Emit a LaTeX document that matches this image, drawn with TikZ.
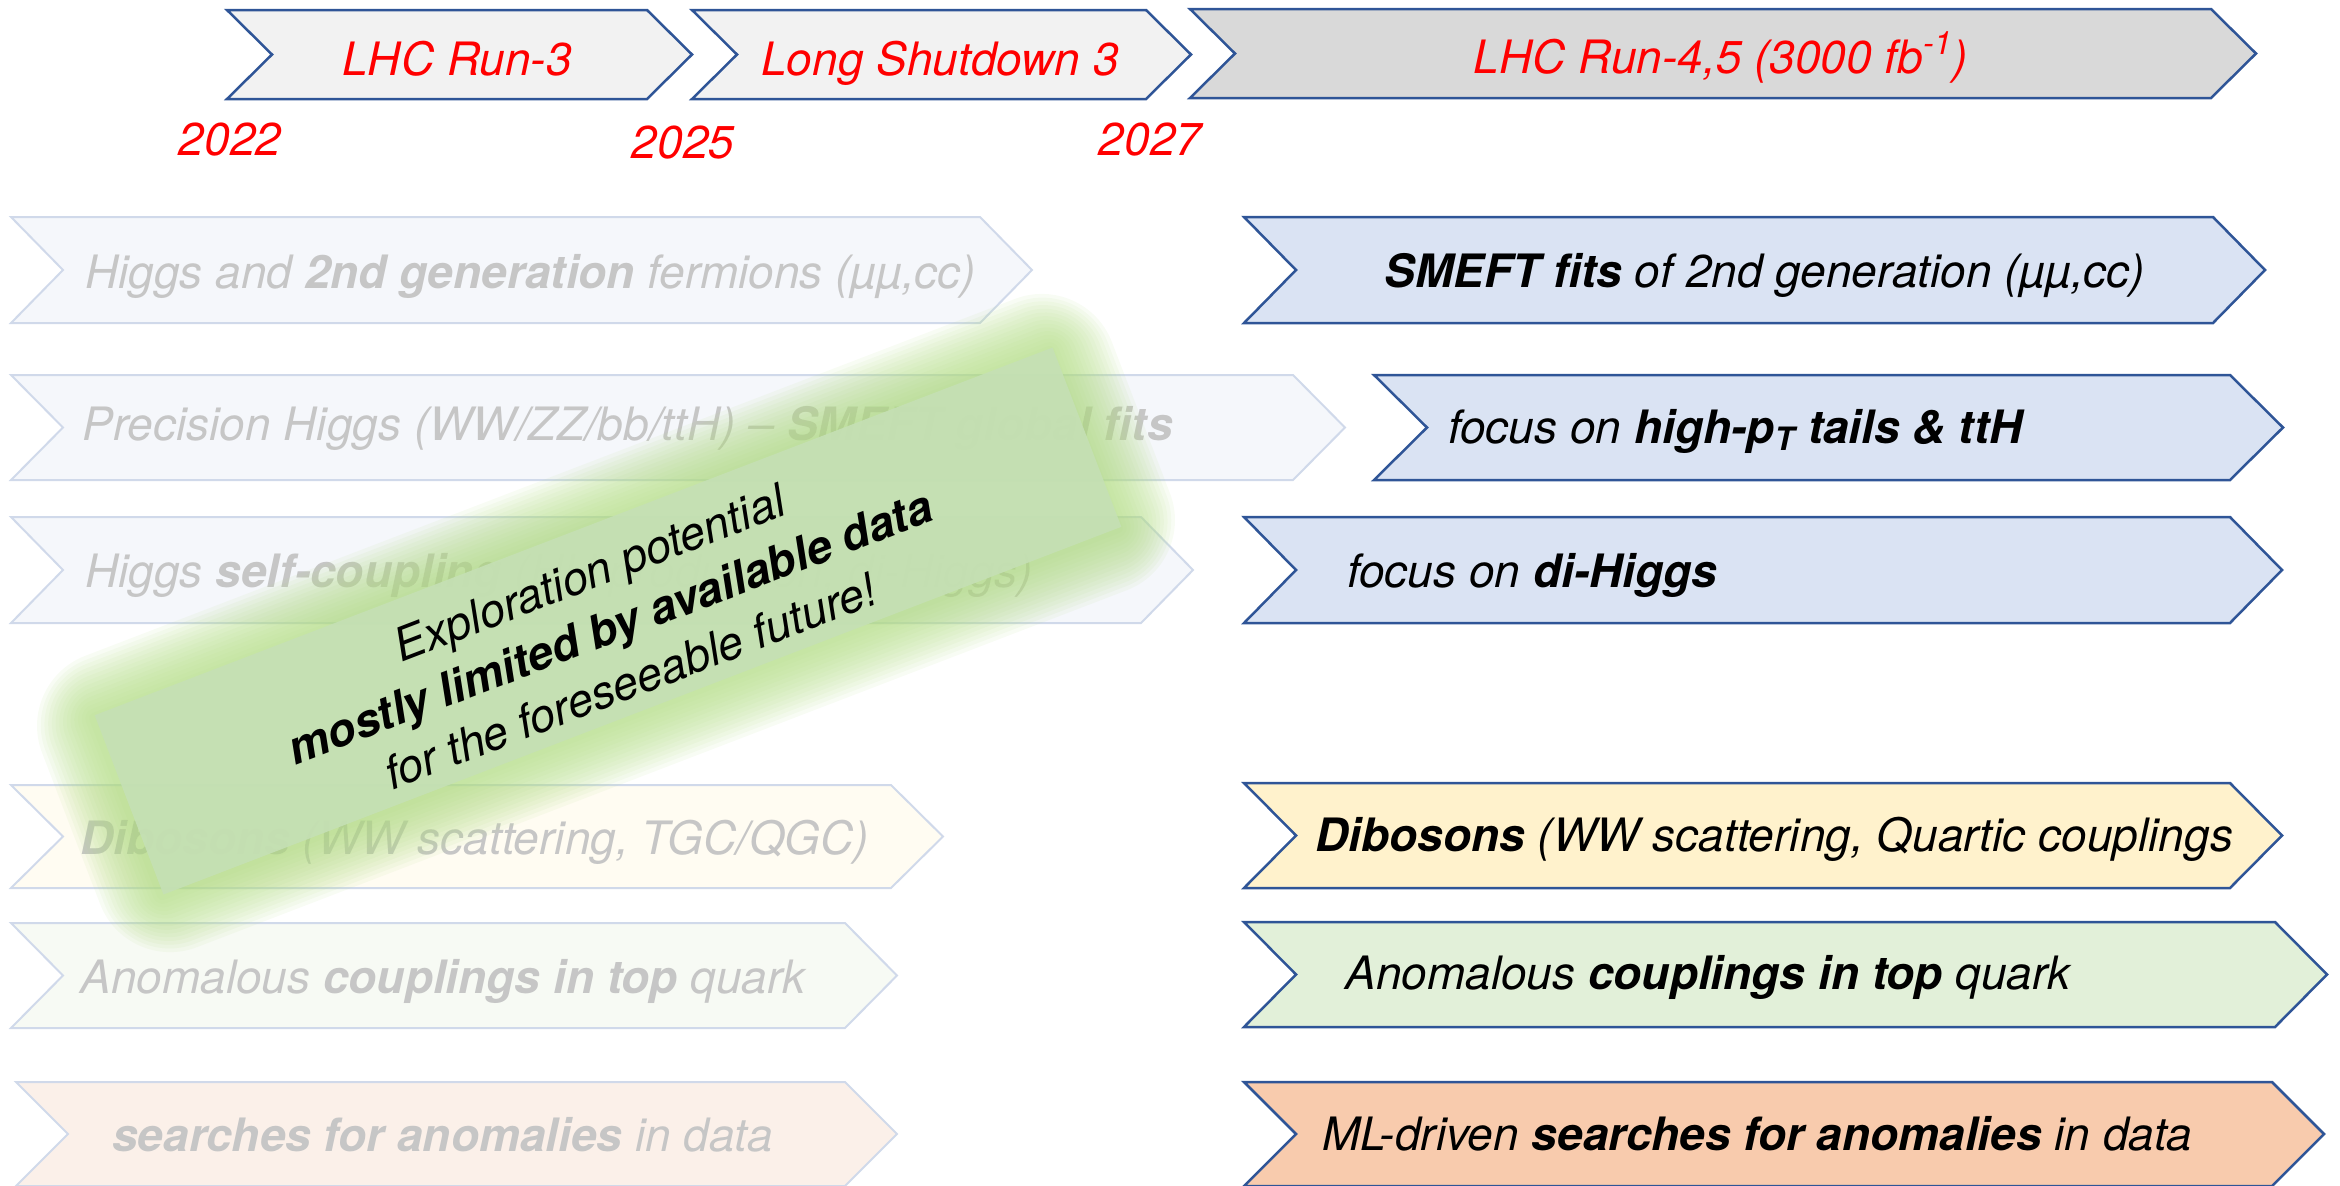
\documentclass[tikz,border=0pt]{standalone}
\usepackage{fontspec}
\setmainfont{TeX Gyre Heros}
\definecolor{bord}{HTML}{2F5597}
\definecolor{topfill}{HTML}{F2F2F2}
\definecolor{topfilldark}{HTML}{D9D9D9}
\definecolor{bluefill}{HTML}{DAE3F3}
\definecolor{yellowfill}{HTML}{FFF2CC}
\definecolor{greenfill}{HTML}{E2F0D9}
\definecolor{orangefill}{HTML}{F8CBAD}
\definecolor{fadebord}{HTML}{D0D9EA}
\definecolor{fadeblue}{HTML}{F5F7FB}
\definecolor{fadeyellow}{HTML}{FFFCF2}
\definecolor{fadegreen}{HTML}{F7FAF4}
\definecolor{fadeorange}{HTML}{FBF0E9}
\definecolor{fadetext}{HTML}{C6C6C6}
\definecolor{boxgreen}{HTML}{C5E0B4}
\definecolor{glowgreen}{HTML}{B2DC84}
\newcommand\mychev[6]{\draw[#1] (#2,#4) -- (#3,#4) -- ({#3+#6},{(#4+#5)/2}) -- (#3,#5) -- (#2,#5) -- ({#2+#6},{(#4+#5)/2}) -- cycle;}
\tikzset{
  strongchev/.style={draw=bord, line width=1.25pt, line join=miter},
  fadechev/.style={draw=fadebord, line width=1pt, line join=miter},
  lbl/.style={inner sep=0pt, font=\fontsize{23pt}{28pt}\selectfont\itshape},
  redlbl/.style={lbl, text=red, anchor=base},
  blacklbl/.style={lbl, text=black, anchor=base west},
  fadelbl/.style={lbl, text=fadetext, anchor=base west},
  glowlayer/.style={rotate=21, fill=glowgreen, fill opacity=0.085, draw=none, inner sep=0pt},
}
\begin{document}
\begin{tikzpicture}[x=0.5pt, y=-0.5pt]
\useasboundingbox (0,0) rectangle (2340,1185);
% timeline
\mychev{strongchev, fill=topfill}{227}{647}{10}{99}{45}
\mychev{strongchev, fill=topfill}{692}{1146}{10}{99}{45}
\mychev{strongchev, fill=topfilldark}{1190}{2211}{9}{98}{45}
\node[redlbl] (run3) at (457,75) {LHC Run-3};
\node[redlbl] (ls3) at (940,75) {Long Shutdown 3};
\node[redlbl] (run45) at (1721,73) {LHC Run-4,5 (3000 fb\textsuperscript{-1})};
\node[redlbl] (y2022) at (230,155) {2022};
\node[redlbl] (y2025) at (683,158) {2025};
\node[redlbl] (y2027) at (1150,155) {2027};
% faded left column
\mychev{fadechev, fill=fadeblue}{11}{980}{217}{323}{52}
\mychev{fadechev, fill=fadeblue}{11}{1293}{375}{480}{52}
\mychev{fadechev, fill=fadeblue}{11}{1141}{517}{623}{52}
\mychev{fadechev, fill=fadeyellow}{11}{891}{785}{888}{52}
\mychev{fadechev, fill=fadegreen}{11}{845}{923}{1028}{52}
\mychev{fadechev, fill=fadeorange}{16}{845}{1082}{1186}{52}
\node[fadelbl] (l1) at (85,288) {Higgs and \textbf{2nd generation} fermions (\textmu\textmu,cc)};
\node[fadelbl] (l2) at (82,440) {Precision Higgs (WW/ZZ/bb/ttH) -- \textbf{SMEFT global fits}};
\node[fadelbl] (l3) at (85,587) {Higgs \textbf{self-coupling} (HH production, di-Higgs)};
\node[fadelbl] (l4) at (80,854) {\textbf{Dibosons} (WW scattering, TGC/QGC)};
\node[fadelbl] (l5) at (80,993) {Anomalous \textbf{couplings in top} quark};
\node[fadelbl] (l6) at (112,1151) {\textbf{searches for anomalies} in data};
% right column
\mychev{strongchev, fill=bluefill}{1244}{2213}{217}{323}{52}
\mychev{strongchev, fill=bluefill}{1374}{2230}{375}{480}{53}
\mychev{strongchev, fill=bluefill}{1244}{2230}{517}{623}{52}
\mychev{strongchev, fill=yellowfill}{1244}{2230}{783}{888}{52}
\mychev{strongchev, fill=greenfill}{1244}{2275}{922}{1027}{52}
\mychev{strongchev, fill=orangefill}{1244}{2272}{1082}{1186}{52}
\node[blacklbl] (r1) at (1384,287) {\textbf{SMEFT fits} of 2nd generation (\textmu\textmu,cc)};
\node[blacklbl] (r2) at (1448,443) {focus on \textbf{high-p\textsubscript{T} tails \& ttH}};
\node[blacklbl] (r3) at (1347,587) {focus on \textbf{di-Higgs}};
\node[blacklbl] (r4) at (1315,851) {\textbf{Dibosons} (WW scattering, Quartic couplings};
\node[blacklbl] (r5) at (1345,989) {Anomalous \textbf{couplings in top} quark};
\node[blacklbl] (r6) at (1322,1150) {ML-driven \textbf{searches for anomalies} in data};
% glowing note
\foreach \k in {1,...,15}
  \node[glowlayer, minimum width={513pt+4pt*\k}, minimum height={96pt+4pt*\k}, rounded corners={2.5pt*\k}] (glow\k) at (606,623) {};
\node[rotate=21, fill=boxgreen, fill opacity=0.93, minimum width=513pt, minimum height=96pt, inner sep=0pt] (exbox) at (608,621) {};
\node[rotate=21, align=center, inner sep=0pt, text=black, font=\fontsize{23pt}{29pt}\selectfont\itshape] (extext) at (610,627) {Exploration potential\\\textbf{mostly limited by available data}\\for the foreseeable future!};
\end{tikzpicture}
\end{document}
